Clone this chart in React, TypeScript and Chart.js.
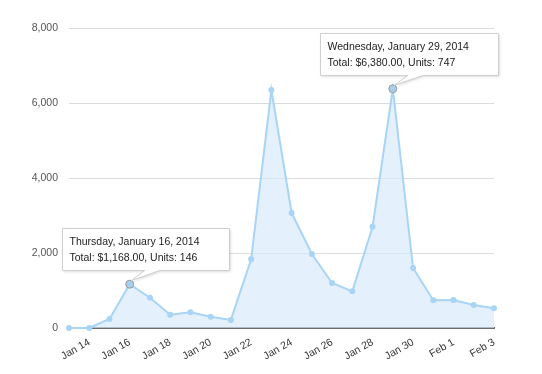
import React, { useEffect, useRef } from "react";
import { Chart, registerables } from "chart.js";

Chart.register(...registerables);

const dates = [
  "2014-01-13", "2014-01-14", "2014-01-15", "2014-01-16", "2014-01-17", "2014-01-18",
  "2014-01-19", "2014-01-20", "2014-01-21", "2014-01-22", "2014-01-23", "2014-01-24",
  "2014-01-25", "2014-01-26", "2014-01-27", "2014-01-28", "2014-01-29", "2014-01-30",
  "2014-01-31", "2014-02-01", "2014-02-02", "2014-02-03",
];
const totals = [
  0, 0, 240, 1168, 808, 355, 418, 302, 215, 1832, 6347, 3067,
  1973, 1200, 978, 2702, 6380, 1600, 738, 747, 613, 524,
];
const yTicks = [0, 2000, 4000, 6000, 8000];
const calloutIndices = [3, 16];
const calloutUnits = [146, 747];

const MONTHS_SHORT = ["Jan", "Feb", "Mar", "Apr", "May", "Jun", "Jul", "Aug", "Sep", "Oct", "Nov", "Dec"];
const MONTHS_LONG = ["January", "February", "March", "April", "May", "June", "July", "August", "September", "October", "November", "December"];
const DAYS = ["Sunday", "Monday", "Tuesday", "Wednesday", "Thursday", "Friday", "Saturday"];

function parse(s: string) {
  const [y, m, d] = s.split("-").map(Number);
  return new Date(Date.UTC(y, m - 1, d));
}
function shortLabel(s: string) {
  const d = parse(s);
  return MONTHS_SHORT[d.getUTCMonth()] + " " + d.getUTCDate();
}
function longLabel(s: string) {
  const d = parse(s);
  return DAYS[d.getUTCDay()] + ", " + MONTHS_LONG[d.getUTCMonth()] + " " + d.getUTCDate() + ", " + d.getUTCFullYear();
}
function money(v: number) {
  return "$" + v.toLocaleString("en-US", { minimumFractionDigits: 2, maximumFractionDigits: 2 });
}

const categories = dates.map(shortLabel);
const LINE = "rgb(168, 212, 246)";
const FILL = "rgba(214, 234, 251, 0.65)";
const FONT = '"Liberation Sans", Arial, sans-serif';

const calloutPlugin = {
  id: "callouts",
  afterDatasetsDraw(chart: any) {
    const ctx = chart.ctx;
    const meta = chart.getDatasetMeta(0);
    calloutIndices.forEach((idx, k) => {
      const pt = meta.data[idx];
      const px = pt.x;
      const py = pt.y;
      ctx.save();
      ctx.beginPath();
      ctx.arc(px, py, 4, 0, Math.PI * 2);
      ctx.fillStyle = "rgb(168, 206, 238)";
      ctx.fill();
      ctx.lineWidth = 1;
      ctx.strokeStyle = "#9a9a9a";
      ctx.stroke();
      ctx.restore();

      const line1 = longLabel(dates[idx]);
      const line2 = "Total: " + money(totals[idx]) + ", Units: " + calloutUnits[k];
      ctx.save();
      ctx.font = "10.5px " + FONT;
      const w = Math.round(Math.max(ctx.measureText(line1).width, ctx.measureText(line2).width) + 37);
      const h = 42;
      const cx = px + 16;
      const left = Math.round(cx - w / 2) + 0.5;
      const top = Math.round(py - 56) + 0.5;
      const bx0 = cx - 1;
      const bx1 = cx + 14;

      ctx.shadowColor = "rgba(0,0,0,0.18)";
      ctx.shadowBlur = 3;
      ctx.shadowOffsetX = 1;
      ctx.shadowOffsetY = 1;
      ctx.beginPath();
      ctx.moveTo(left, top);
      ctx.lineTo(left + w, top);
      ctx.lineTo(left + w, top + h);
      ctx.lineTo(bx1, top + h);
      ctx.lineTo(px + 1.5, py - 3.5);
      ctx.lineTo(bx0, top + h);
      ctx.lineTo(left, top + h);
      ctx.closePath();
      ctx.fillStyle = "#ffffff";
      ctx.fill();
      ctx.shadowColor = "transparent";
      ctx.strokeStyle = "#cfcfcf";
      ctx.lineWidth = 1;
      ctx.stroke();

      ctx.fillStyle = "#222222";
      ctx.textBaseline = "alphabetic";
      ctx.textAlign = "left";
      ctx.fillText(line1, left + 7, top + 16.5);
      ctx.fillText(line2, left + 7, top + 32.5);
      ctx.restore();
    });
  },
};

export default function App() {
  const ref = useRef<HTMLCanvasElement | null>(null);
  useEffect(() => {
    if (!ref.current) return;
    const chart = new Chart(ref.current, {
      type: "line",
      data: {
        labels: categories,
        datasets: [
          {
            data: totals,
            borderColor: LINE,
            backgroundColor: FILL,
            borderWidth: 2,
            fill: "origin",
            tension: 0,
            clip: false,
            pointRadius: 3,
            pointBackgroundColor: LINE,
            pointBorderWidth: 0,
          },
        ],
      },
      options: {
        animation: false,
        responsive: false,
        maintainAspectRatio: false,
        layout: { padding: { left: 0, right: 48, top: 28, bottom: 0 } },
        plugins: { legend: { display: false }, tooltip: { enabled: false } },
        scales: {
          x: {
            type: "category",
            offset: false,
            afterFit: (s: any) => { s.height = 46; },
            grid: { display: false },
            border: { display: true, color: "#6b6b6b", width: 2 },
            ticks: {
              autoSkip: false,
              minRotation: 30,
              maxRotation: 30,
              padding: 0,
              color: "#333333",
              font: { family: FONT, size: 10.5 },
              callback: (_v: any, i: number) => (i % 2 === 1 ? categories[i] : ""),
            },
          },
          y: {
            min: yTicks[0],
            max: yTicks[yTicks.length - 1],
            afterFit: (s: any) => { s.width = 69; },
            afterBuildTicks: (s: any) => { s.ticks = yTicks.map((v) => ({ value: v })); },
            grid: { color: "#dcdcdc", lineWidth: 1, drawTicks: false },
            border: { display: false },
            ticks: {
              padding: 11,
              color: "#555555",
              font: { family: FONT, size: 10.5 },
              callback: (v: any) => Number(v).toLocaleString("en-US"),
            },
          },
        },
      },
      plugins: [calloutPlugin],
    });
    return () => chart.destroy();
  }, []);
  return (
    <div style={{ position: "absolute", left: 0, top: 0, width: 542, height: 374, background: "#fff" }}>
      <canvas ref={ref} width={542} height={374} style={{ width: 542, height: 374 }} />
    </div>
  );
}
